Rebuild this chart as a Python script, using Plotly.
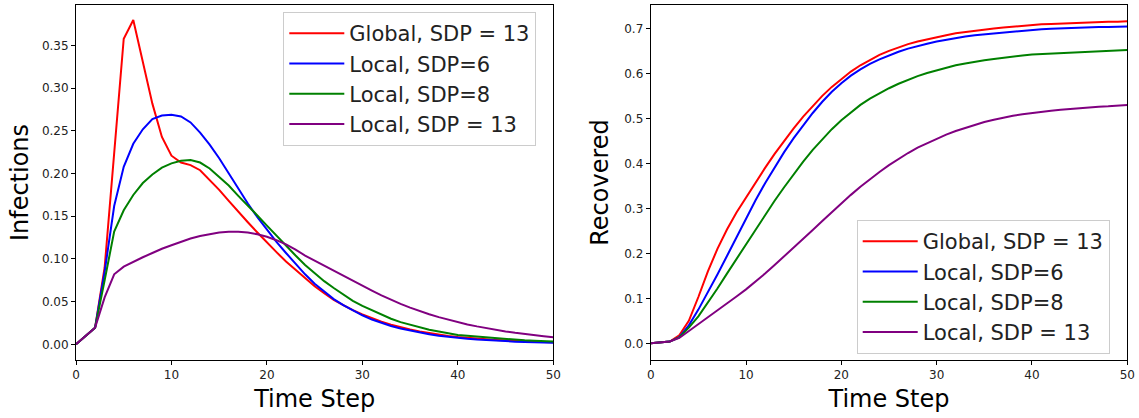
import plotly.graph_objects as go

# Time axis (integer simulation steps)
time_steps = list(range(51))

series_names = ["Global, SDP = 13", "Local, SDP=6", "Local, SDP=8", "Local, SDP = 13"]
series_colors = ["#ff0000", "#0000ff", "#008000", "#800080"]

# Infected fraction per step
inf_global_13 = [0.0, 0.010, 0.0195, 0.090, 0.225, 0.358, 0.380, 0.330, 0.282, 0.243,
                 0.221, 0.213, 0.210, 0.204, 0.193, 0.181, 0.168, 0.155, 0.143, 0.131,
                 0.119, 0.108, 0.097, 0.087, 0.077, 0.068, 0.060, 0.052, 0.046, 0.040,
                 0.0350, 0.0305, 0.0265, 0.0230, 0.0200, 0.0173, 0.0150, 0.0130, 0.0113, 0.0098,
                 0.0086, 0.0075, 0.0066, 0.0058, 0.0051, 0.0045, 0.0040, 0.0035, 0.0031, 0.0028, 0.0025]
inf_local_6 = [0.0, 0.010, 0.0195, 0.085, 0.162, 0.208, 0.235, 0.252, 0.264, 0.268,
               0.269, 0.267, 0.260, 0.248, 0.234, 0.218, 0.200, 0.182, 0.165, 0.149,
               0.134, 0.120, 0.107, 0.094, 0.082, 0.071, 0.062, 0.053, 0.046, 0.040,
               0.0340, 0.0290, 0.0250, 0.0215, 0.0185, 0.0160, 0.0137, 0.0118, 0.0101, 0.0087,
               0.0075, 0.0065, 0.0056, 0.0048, 0.0042, 0.0036, 0.0031, 0.0027, 0.0023, 0.0020, 0.0017]
inf_local_8 = [0.0, 0.010, 0.0195, 0.075, 0.132, 0.157, 0.175, 0.189, 0.199, 0.207,
               0.212, 0.215, 0.216, 0.213, 0.206, 0.196, 0.186, 0.174, 0.163, 0.151,
               0.139, 0.127, 0.116, 0.104, 0.093, 0.083, 0.074, 0.066, 0.058, 0.051,
               0.045, 0.040, 0.035, 0.030, 0.026, 0.023, 0.020, 0.017, 0.015, 0.013,
               0.011, 0.010, 0.009, 0.008, 0.007, 0.006, 0.0053, 0.0047, 0.0041, 0.0036, 0.0032]
inf_local_13 = [0.0, 0.010, 0.0195, 0.055, 0.082, 0.091, 0.097, 0.102, 0.107, 0.112,
                0.116, 0.120, 0.124, 0.127, 0.129, 0.131, 0.132, 0.132, 0.131, 0.129,
                0.126, 0.122, 0.117, 0.111, 0.104, 0.098, 0.092, 0.086, 0.080, 0.0745,
                0.0690, 0.0630, 0.0574, 0.0522, 0.0474, 0.0430, 0.0389, 0.0352, 0.0318, 0.0287,
                0.0259, 0.0233, 0.0210, 0.0188, 0.0169, 0.0151, 0.0135, 0.0120, 0.0107, 0.0095, 0.0084]

# Recovered fraction per step
rec_global_13 = [0.0, 0.002, 0.004, 0.018, 0.050, 0.103, 0.160, 0.210, 0.253, 0.291,
                 0.325, 0.358, 0.390, 0.421, 0.450, 0.478, 0.504, 0.528, 0.550, 0.570,
                 0.588, 0.604, 0.618, 0.630, 0.641, 0.650, 0.658, 0.665, 0.671, 0.676,
                 0.681, 0.685, 0.689, 0.692, 0.695, 0.698, 0.700, 0.702, 0.704, 0.706,
                 0.708, 0.709, 0.710, 0.711, 0.712, 0.713, 0.714, 0.714, 0.715, 0.715, 0.716]
rec_local_6 = [0.0, 0.002, 0.004, 0.014, 0.040, 0.075, 0.113, 0.153, 0.194, 0.236,
               0.278, 0.318, 0.356, 0.392, 0.425, 0.456, 0.485, 0.512, 0.537, 0.559,
               0.578, 0.595, 0.609, 0.621, 0.631, 0.640, 0.648, 0.655, 0.661, 0.666,
               0.671, 0.675, 0.679, 0.682, 0.685, 0.687, 0.689, 0.691, 0.693, 0.695,
               0.697, 0.698, 0.699, 0.700, 0.701, 0.702, 0.702, 0.703, 0.703, 0.704, 0.704]
rec_local_8 = [0.0, 0.002, 0.004, 0.013, 0.035, 0.060, 0.090, 0.122, 0.155, 0.188,
               0.221, 0.254, 0.286, 0.317, 0.347, 0.376, 0.404, 0.430, 0.454, 0.476,
               0.496, 0.514, 0.530, 0.544, 0.556, 0.567, 0.577, 0.586, 0.594, 0.601,
               0.607, 0.613, 0.618, 0.622, 0.626, 0.629, 0.632, 0.635, 0.638, 0.640,
               0.642, 0.643, 0.645, 0.646, 0.647, 0.648, 0.649, 0.650, 0.650, 0.651, 0.652]
rec_local_13 = [0.0, 0.002, 0.004, 0.012, 0.027, 0.043, 0.058, 0.073, 0.088, 0.104,
                0.120, 0.137, 0.155, 0.174, 0.193, 0.212, 0.232, 0.252, 0.272, 0.292,
                0.311, 0.330, 0.348, 0.365, 0.381, 0.396, 0.410, 0.423, 0.435, 0.445,
                0.455, 0.464, 0.472, 0.479, 0.486, 0.492, 0.497, 0.502, 0.506, 0.509,
                0.512, 0.515, 0.517, 0.519, 0.521, 0.523, 0.525, 0.526, 0.527, 0.529, 0.530]

x_ticks = [0, 10, 20, 30, 40, 50]
inf_ticks = [0.00, 0.05, 0.10, 0.15, 0.20, 0.25, 0.30, 0.35]
rec_ticks = [0.0, 0.1, 0.2, 0.3, 0.4, 0.5, 0.6, 0.7]

infections = [inf_global_13, inf_local_6, inf_local_8, inf_local_13]
recovered = [rec_global_13, rec_local_6, rec_local_8, rec_local_13]

W, H = 1139, 418
FONT = "DejaVu Sans, Verdana, sans-serif"

fig = go.Figure()

for i, (name, color, ys) in enumerate(zip(series_names, series_colors, infections)):
    fig.add_trace(go.Scatter(
        x=time_steps, y=ys, mode="lines", name=name,
        line=dict(color=color, width=2),
        xaxis="x", yaxis="y", legend="legend", legendgroup=f"inf{i}",
    ))

for i, (name, color, ys) in enumerate(zip(series_names, series_colors, recovered)):
    fig.add_trace(go.Scatter(
        x=time_steps, y=ys, mode="lines", name=name,
        line=dict(color=color, width=2),
        xaxis="x2", yaxis="y2", legend="legend2", legendgroup=f"rec{i}",
    ))

def px_x(p):
    return p / W

def px_y(p):
    return 1 - p / H

axis_common = dict(
    showgrid=False, zeroline=False, showline=True, mirror=True,
    linecolor="black", linewidth=1, ticks="outside", ticklen=4,
    tickwidth=1, tickcolor="black", automargin=False,
    tickfont=dict(family=FONT, size=12, color="#222222"),
)

title_font = dict(family=FONT, size=24, color="black")

legend_common = dict(
    bgcolor="rgba(255,255,255,0.85)", bordercolor="#cccccc", borderwidth=1,
    font=dict(family=FONT, size=21, color="#222222"),
    tracegroupgap=0, xanchor="left", yanchor="top",
    itemwidth=55,
)

fig.update_layout(
    width=W, height=H,
    margin=dict(l=0, r=0, t=0, b=0),
    paper_bgcolor="white", plot_bgcolor="white",
    xaxis=dict(domain=[px_x(76), px_x(553.3)], range=[0, 50], tickvals=x_ticks,
               title=dict(text="Time Step", font=title_font, standoff=8),
               anchor="y", **axis_common),
    yaxis=dict(domain=[px_y(360), px_y(5)], range=[-0.0184, 0.3976], tickvals=inf_ticks,
               tickformat=".2f",
               title=dict(text="Infections", font=title_font, standoff=6),
               anchor="x", **axis_common),
    xaxis2=dict(domain=[px_x(650.7), px_x(1127.3)], range=[0, 50], tickvals=x_ticks,
                title=dict(text="Time Step", font=title_font, standoff=8),
                anchor="y2", **axis_common),
    yaxis2=dict(domain=[px_y(360), px_y(5)], range=[-0.037, 0.752], tickvals=rec_ticks,
                tickformat=".1f",
                title=dict(text="Recovered", font=title_font, standoff=8),
                anchor="x2", **axis_common),
    legend=dict(x=px_x(283.3), y=px_y(12), **legend_common),
    legend2=dict(x=px_x(856.7), y=px_y(220), **legend_common),
    showlegend=True,
)

fig.write_html("out.html")
